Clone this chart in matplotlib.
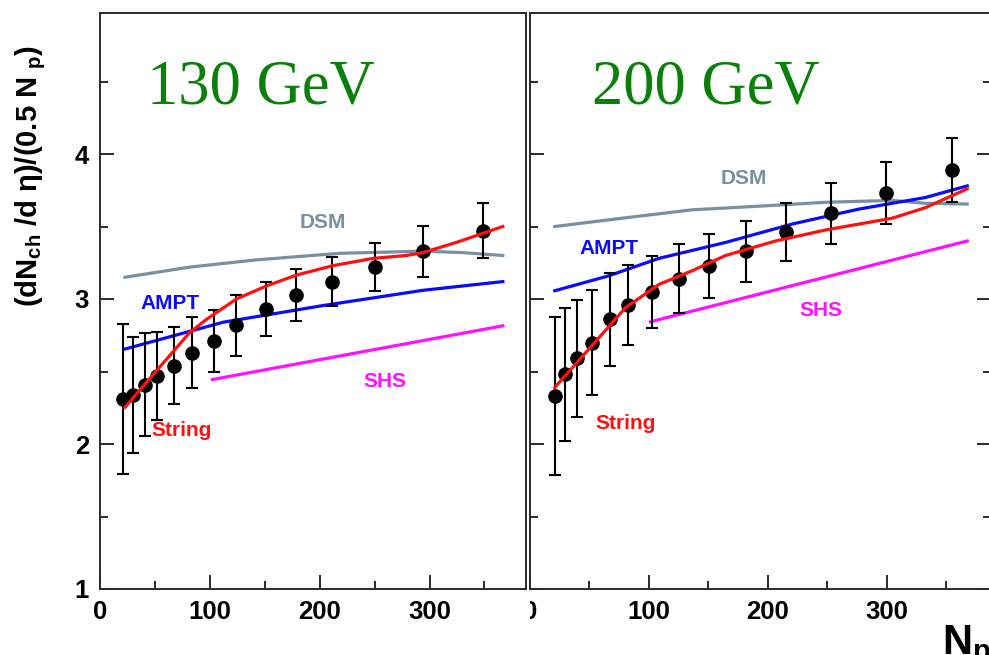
import matplotlib
matplotlib.use('Agg')
import matplotlib.pyplot as plt
from matplotlib.patches import Rectangle
from matplotlib.ticker import MultipleLocator

plt.rcParams['font.family'] = ['Liberation Sans', 'DejaVu Sans']
plt.rcParams['font.weight'] = 'bold'
plt.rcParams['mathtext.fontset'] = 'custom'
plt.rcParams['mathtext.rm'] = 'Liberation Sans:bold'
plt.rcParams['mathtext.it'] = 'Liberation Sans:bold'
plt.rcParams['mathtext.bf'] = 'Liberation Sans:bold'

# ---- 130 GeV ----
npart_130 = [21, 29.5, 40.7, 52, 67, 83.7, 103.5, 124, 150.5, 178, 211.4, 250, 294, 348.5]
data_130 = [2.31, 2.34, 2.41, 2.47, 2.54, 2.63, 2.71, 2.82, 2.93, 3.03, 3.12, 3.22, 3.33, 3.47]
err_130 = [0.52, 0.40, 0.355, 0.305, 0.265, 0.245, 0.215, 0.21, 0.185, 0.18, 0.17, 0.165, 0.175, 0.19]

dsm_x_130 = [22.5, 81.6, 142.3, 218, 294, 330, 366.7]
dsm_y_130 = [3.15, 3.22, 3.27, 3.315, 3.33, 3.32, 3.30]
ampt_x_130 = [22.5, 112, 203, 294, 366.7]
ampt_y_130 = [2.655, 2.84, 2.955, 3.06, 3.12]
shs_x_130 = [102.3, 366.7]
shs_y_130 = [2.445, 2.815]
str_x_130 = [22.5, 51.3, 81.6, 96.8, 124, 151.4, 178.7, 212, 248.4, 278.8, 294, 324.3, 366.7]
str_y_130 = [2.253, 2.506, 2.77, 2.86, 3.0, 3.09, 3.165, 3.23, 3.28, 3.30, 3.32, 3.39, 3.50]

# ---- 200 GeV ----
npart_200 = [21, 29.4, 39.8, 51.9, 67, 82.4, 102.8, 125.2, 150.4, 181.3, 215.7, 253.5, 299.5, 354.4]
data_200 = [2.33, 2.48, 2.59, 2.70, 2.86, 2.96, 3.05, 3.14, 3.23, 3.33, 3.46, 3.59, 3.73, 3.89]
err_200 = [0.545, 0.46, 0.405, 0.36, 0.32, 0.275, 0.25, 0.24, 0.22, 0.21, 0.20, 0.21, 0.215, 0.22]

dsm_x_200 = [21, 80.4, 136.5, 192.4, 248.5, 304.5, 332.5, 367.6]
dsm_y_200 = [3.50, 3.56, 3.615, 3.64, 3.667, 3.68, 3.66, 3.655]
ampt_x_200 = [21, 66.4, 108.4, 164.5, 220.5, 276.5, 332.5, 367.6]
ampt_y_200 = [3.057, 3.16, 3.28, 3.39, 3.517, 3.62, 3.70, 3.78]
shs_x_200 = [101.4, 367.6]
shs_y_200 = [2.843, 3.40]
str_x_200 = [21, 52.4, 80.4, 108.4, 136.5, 164.5, 206.5, 248.5, 304.5, 332.5, 367.6]
str_y_200 = [2.39, 2.68, 2.94, 3.10, 3.195, 3.30, 3.40, 3.476, 3.557, 3.63, 3.76]

W, H = 989, 655
fig = plt.figure(figsize=(W / 100, H / 100), dpi=100)

bottom = (H - 589) / H
height = (589 - 12.5) / H
ax1 = fig.add_axes([100.3 / W, bottom, (526.2 - 100.3) / W, height], zorder=1)
ax2 = fig.add_axes([529.8 / W, bottom, 461.7 / W, height], zorder=0)

# white strip so only the right half of the right panel's "0" shows
fig.add_artist(Rectangle((0, 0), 529.8 / W, bottom - 0.002, transform=fig.transFigure,
                         facecolor='white', edgecolor='none', zorder=0.5))

c_dsm = '#7890a2'
c_ampt = '#0a0aff'
c_shs = '#ff10ff'
c_str = '#ff1010'
spine_c = '#2b2b2b'
lab = dict(fontsize=15, fontweight='bold', ha='center', va='center')

panels = [
    (ax1, npart_130, data_130, err_130, dsm_x_130, dsm_y_130, ampt_x_130, ampt_y_130,
     shs_x_130, shs_y_130, str_x_130, str_y_130),
    (ax2, npart_200, data_200, err_200, dsm_x_200, dsm_y_200, ampt_x_200, ampt_y_200,
     shs_x_200, shs_y_200, str_x_200, str_y_200),
]

for ax, nx, dy, de, dsx, dsy, amx, amy, shx, shy, stx, sty in panels:
    ax.plot(dsx, dsy, color=c_dsm, lw=2.3, zorder=2)
    ax.plot(amx, amy, color=c_ampt, lw=2.3, zorder=2)
    ax.plot(shx, shy, color=c_shs, lw=2.3, zorder=2)
    ax.errorbar(nx, dy, yerr=de, fmt='o', color='black', ms=9.5, elinewidth=1.5,
                capsize=4, capthick=1.5, zorder=3)
    ax.plot(stx, sty, color=c_str, lw=2.3, zorder=4)

    ax.set_xlim(0, 388)
    ax.set_ylim(1, 1 + (589 - 12.5) / 145)
    ax.xaxis.set_major_locator(MultipleLocator(100))
    ax.xaxis.set_minor_locator(MultipleLocator(50))
    ax.yaxis.set_major_locator(MultipleLocator(1))
    ax.yaxis.set_minor_locator(MultipleLocator(0.5))
    ax.tick_params(which='both', direction='in', color=spine_c, width=1.4,
                   labelsize=18.5, top=False)
    ax.tick_params(which='major', length=10, pad=8)
    ax.tick_params(which='minor', length=6)
    for lbl in ax.get_xticklabels() + ax.get_yticklabels():
        lbl.set_fontweight('bold')
    for s in ax.spines.values():
        s.set_color(spine_c)
        s.set_linewidth(1.4)

ax1.tick_params(which='both', right=False)
ax2.tick_params(which='both', right=True, labelleft=False)

ax1.text(202.6, 3.531, 'DSM', color=c_dsm, **lab)
ax1.text(63.4, 2.966, 'AMPT', color=c_ampt, **lab)
ax1.text(259, 2.434, 'SHS', color=c_shs, **lab)
ax1.text(74.3, 2.09, 'String', color=c_str, **lab)

ax2.text(179.8, 3.832, 'DSM', color=c_dsm, **lab)
ax2.text(66.4, 3.345, 'AMPT', color=c_ampt, **lab)
ax2.text(244.3, 2.919, 'SHS', color=c_shs, **lab)
ax2.text(80.4, 2.138, 'String', color=c_str, **lab)

green = '#0a800a'
fig.text(147 / W, 1 - 103 / H, '130 GeV', color=green, fontsize=45,
         family='Liberation Serif', fontweight='normal', va='baseline', ha='left')
fig.text(592 / W, 1 - 103 / H, '200 GeV', color=green, fontsize=45,
         family='Liberation Serif', fontweight='normal', va='baseline', ha='left')

fig.text(31 / W, 1 - 176 / H, r'(dN$_{ch}$ /d η)/(0.5 N $_{p}$)', rotation=90,
         fontsize=21, fontweight='bold', ha='center', va='center')
fig.text(942 / W, 1 - 623 / H, r'N$_{p}$', fontsize=30, fontweight='bold',
         ha='left', va='top')

plt.savefig('out.png', dpi=100)
